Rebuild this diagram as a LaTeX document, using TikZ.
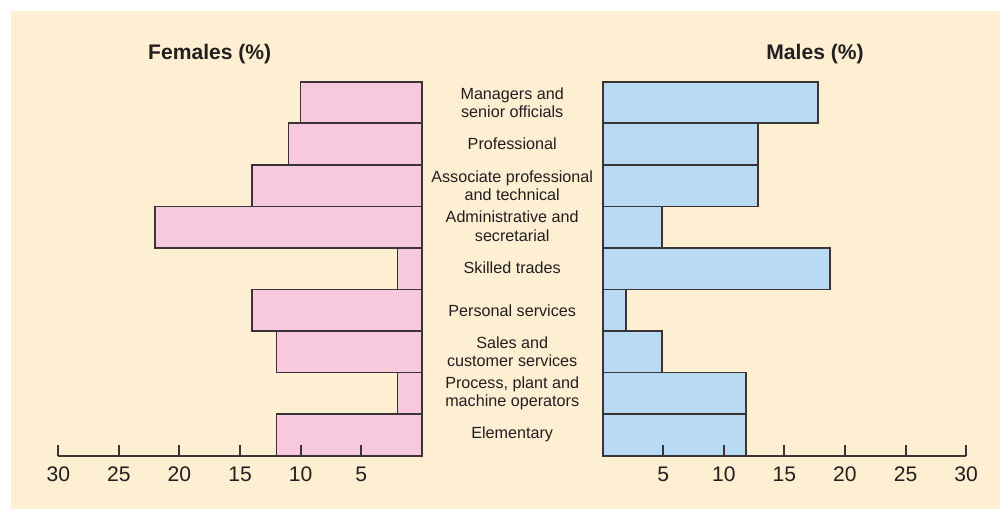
\documentclass[tikz,border=0pt]{standalone}
\usepackage{fontspec}
\setmainfont{Liberation Sans}
\usetikzlibrary{positioning}
\definecolor{paper}{HTML}{FEEED2}
\definecolor{fembar}{HTML}{F8C8DD}
\definecolor{malebar}{HTML}{B8DBF3}
\definecolor{ink}{HTML}{3A3436}
\definecolor{txt}{HTML}{231F20}
\tikzset{
  fbar/.style={draw=ink, line width=1pt, fill=fembar},
  mbar/.style={draw=ink, line width=1pt, fill=malebar},
  axis/.style={draw=ink, line width=1.1pt},
  cat/.style={align=center, text=txt, font=\fontsize{9.2}{10.4}\selectfont},
  ticklab/.style={text=txt, font=\fontsize{12}{14}\selectfont},
  head/.style={text=txt, font=\fontsize{12}{14}\selectfont\bfseries}
}

\begin{document}
\begin{tikzpicture}[x=0.02cm, y=-0.02cm]
                   \useasboundingbox (0,0) rectangle (1000,509);
                   \fill[white] (0,0) rectangle (1000,509);
                   \fill[paper] (11,11) rectangle (1000,509);

                   % headings
                   \node[head] (fem) at (209.7,54) {Females (\%)};
                   \node[head] (male) at (815,54) {Males (\%)};

                   % female bars
                   \draw[fbar] (300.6,81.7)  rectangle (421.7,123.3);
                   \draw[fbar] (288.5,123.3) rectangle (421.7,164.8);
                   \draw[fbar] (252.2,164.8) rectangle (421.7,206.4);
                   \draw[fbar] (155.3,206.4) rectangle (421.7,248.0);
                   \draw[fbar] (397.5,248.0) rectangle (421.7,289.5);
                   \draw[fbar] (252.2,289.5) rectangle (421.7,331.1);
                   \draw[fbar] (276.4,331.1) rectangle (421.7,372.6);
                   \draw[fbar] (397.5,372.6) rectangle (421.7,414.2);
                   \draw[fbar] (276.4,414.2) rectangle (421.7,455.7);

                   % male bars
                   \draw[mbar] (602.7,81.7)  rectangle (818.3,123.3);
                   \draw[mbar] (602.7,123.3) rectangle (758.3,164.8);
                   \draw[mbar] (602.7,164.8) rectangle (758.3,206.4);
                   \draw[mbar] (602.7,206.4) rectangle (662.3,248.0);
                   \draw[mbar] (602.7,248.0) rectangle (830.0,289.5);
                   \draw[mbar] (602.7,289.5) rectangle (626.3,331.1);
                   \draw[mbar] (602.7,331.1) rectangle (662.3,372.6);
                   \draw[mbar] (602.7,372.6) rectangle (746.0,414.2);
                   \draw[mbar] (602.7,414.2) rectangle (746.0,455.7);

                   % occupation labels
                   \node[cat] (c_1) at (512.2,102.5) {Managers and\\senior officials};
                   \node[cat] (c_2) at (512.2,144.1) {Professional};
                   \node[cat] (c_3) at (512.2,185.6) {Associate professional\\and technical};
                   \node[cat] (c_4) at (512.2,226.2) {Administrative and\\secretarial};
                   \node[cat] (c_5) at (512.2,268.0) {Skilled trades};
                   \node[cat] (c_6) at (512.2,310.3) {Personal services};
                   \node[cat] (c_7) at (512.2,351.9) {Sales and\\customer services};
                   \node[cat] (c_8) at (512.2,393.4) {Process, plant and\\machine operators};
                   \node[cat] (c_9) at (512.2,434.0) {Elementary};

                   % axes
                   \coordinate (f0) at (421.7,455.7);
                   \coordinate (m0) at (602.7,455.7);
                   \draw[axis] (58.3,455.7) -- (f0);
                   \draw[axis] (m0) -- (966,455.7);
                   \foreach \v in {5,10,...,30} {
                       \draw[axis] (421.7-12.113*\v,455.7) -- ++(0,-11);
                       \node[ticklab] at (421.7-12.113*\v,474) {\v};
                       \draw[axis] (602.7+12.113*\v,455.7) -- ++(0,-11);
                       \node[ticklab] at (602.7+12.113*\v,474) {\v};
                   }
                \end{tikzpicture}
\end{document}
